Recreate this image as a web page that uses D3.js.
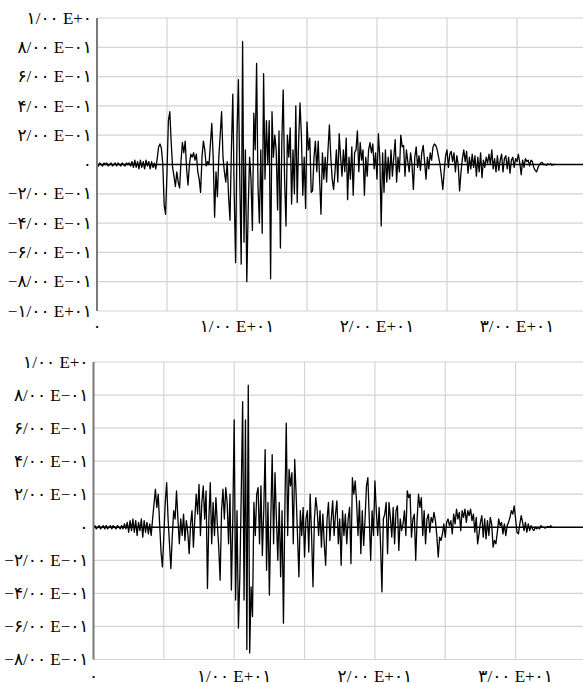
<!DOCTYPE html>
<html>
<head>
<meta charset="utf-8">
<script src="https://cdn.jsdelivr.net/npm/d3@7"></script>
<style>
  body { margin: 0; background: #fff; }
  svg { display: block; }
  .lbl { font-family: "Liberation Serif", "DejaVu Serif", "DejaVu Sans", serif; font-size: 17px; fill: #000; direction: ltr; }
</style>
</head>
<body>
<div class="canvas"></div>
<script>
// sample spacing (s) of both records
const dt = 0.1;

// top record, one row per second
const topSeries = [
  0.00, -0.01, 0.01, 0.00, -0.01, 0.01, 0.00, 0.01, -0.01, 0.00,
  0.01, -0.01, 0.00, 0.01, -0.01, 0.01, 0.00, -0.01, 0.01, 0.00,
  -0.01, 0.01, 0.00, 0.01, -0.01, 0.02, -0.02, 0.03, -0.02, 0.02,
  -0.03, 0.03, -0.02, 0.02, -0.03, 0.03, -0.01, 0.02, -0.03, 0.02,
  -0.02, 0.01, -0.03, 0.04, 0.12, 0.14, 0.11, 0.00, -0.28, -0.34,
  -0.05, 0.30, 0.36, 0.15, -0.02, -0.08, -0.15, -0.05, -0.12, -0.16,
  0.02, 0.15, 0.08, 0.16, -0.03, -0.14, 0.00, 0.07, 0.05, 0.08,
  0.03, 0.07, -0.05, -0.10, -0.19, 0.05, 0.16, 0.10, -0.01, 0.02,
  0.00, 0.14, 0.28, 0.05, -0.36, -0.05, -0.22, 0.05, 0.20, 0.36,
  0.05, -0.05, -0.12, 0.02, -0.22, -0.38, 0.10, 0.48, -0.20, -0.67,
  0.20, 0.58, -0.10, -0.68, 0.84, -0.53, 0.10, -0.80, -0.30, 0.05,
  -0.10, -0.45, 0.35, 0.10, 0.69, -0.15, -0.40, 0.10, -0.47, 0.62,
  -0.10, 0.30, 0.00, 0.30, -0.78, 0.36, 0.05, 0.20, 0.10, -0.31,
  0.23, -0.57, 0.15, 0.51, -0.10, -0.42, 0.20, 0.05, 0.25, -0.27,
  0.10, -0.20, 0.40, -0.26, 0.15, 0.42, 0.20, -0.21, 0.05, -0.30,
  0.29, 0.10, 0.18, -0.19, -0.18, 0.05, 0.16, -0.05, 0.16, -0.10,
  -0.34, 0.08, -0.10, 0.05, -0.12, 0.10, 0.27, 0.05, -0.10, -0.17,
  -0.05, 0.10, -0.12, 0.21, 0.05, -0.08, 0.10, -0.05, 0.18, -0.24,
  0.05, -0.10, 0.12, -0.21, 0.08, 0.10, 0.23, -0.05, 0.15, 0.03,
  0.10, -0.21, 0.05, -0.08, 0.10, 0.15, 0.08, 0.14, -0.03, 0.08,
  -0.10, 0.21, 0.05, -0.42, 0.08, -0.19, 0.10, -0.12, 0.05, -0.10,
  0.10, -0.08, 0.05, 0.17, -0.12, 0.05, -0.05, 0.20, 0.12, 0.13,
  -0.08, 0.10, 0.02, -0.05, 0.08, 0.00, -0.17, 0.05, 0.12, -0.02,
  0.06, -0.04, 0.08, 0.13, 0.02, -0.10, 0.05, -0.03, 0.08, 0.03,
  0.12, 0.14, 0.13, 0.10, 0.05, 0.00, -0.08, -0.17, -0.05, 0.06,
  0.10, -0.02, 0.07, 0.09, 0.02, 0.08, -0.05, 0.06, 0.00, -0.18,
  -0.05, 0.04, 0.10, 0.02, 0.09, -0.06, 0.05, -0.03, 0.07, -0.02,
  0.06, -0.08, 0.05, -0.05, 0.08, -0.09, 0.03, -0.02, 0.05, 0.01,
  0.07, 0.00, 0.10, -0.03, 0.04, -0.05, 0.06, -0.04, 0.03, 0.07,
  -0.05, 0.04, 0.06, -0.03, 0.05, -0.06, 0.03, 0.05, -0.02, 0.04,
  0.02, 0.07, 0.01, -0.07, 0.03, -0.02, 0.04, 0.02, 0.03, -0.01,
  0.03, 0.02, -0.02, -0.04, -0.05, -0.02, 0.00, 0.01, 0.015, 0.00,
  0.00, -0.005, 0.005, 0.00, 0.005, -0.005, 0.00, 0.00
];

// bottom record
const bottomSeries = [
  0.00, 0.01, -0.01, 0.00, 0.01, -0.01, 0.00, 0.01, -0.01, 0.01,
  -0.01, 0.00, 0.01, -0.01, 0.01, 0.00, -0.01, 0.01, 0.00, -0.01,
  0.01, -0.01, 0.02, -0.01, 0.03, -0.03, 0.04, -0.02, 0.05, -0.03,
  0.04, -0.05, 0.03, -0.02, 0.05, -0.06, 0.04, -0.03, 0.03, -0.04,
  0.02, -0.05, 0.05, 0.14, 0.23, 0.12, 0.20, 0.02, -0.15, -0.24,
  -0.05, 0.15, 0.27, 0.05, -0.10, -0.25, -0.05, 0.10, 0.05, 0.22,
  0.05, -0.10, 0.05, -0.05, 0.08, -0.08, 0.04, -0.03, -0.16, 0.02,
  0.10, -0.12, 0.05, 0.20, 0.08, 0.26, -0.05, 0.15, 0.25, 0.05,
  0.22, -0.37, 0.05, 0.27, -0.10, 0.15, -0.05, 0.18, 0.02, -0.12,
  -0.32, 0.10, 0.23, 0.05, 0.24, 0.15, -0.10, 0.20, -0.38, 0.05,
  0.65, -0.44, 0.10, -0.61, -0.30, 0.20, 0.76, -0.44, 0.65, -0.74,
  0.86, -0.76, -0.36, -0.54, 0.15, -0.05, 0.20, 0.24, -0.10, 0.25,
  -0.17, 0.10, 0.47, -0.26, 0.15, -0.41, 0.05, 0.44, -0.10, 0.33,
  0.05, -0.20, 0.15, -0.30, 0.10, -0.58, 0.10, 0.63, -0.05, 0.35,
  0.25, 0.33, -0.10, 0.41, 0.20, -0.05, -0.30, 0.10, -0.05, 0.12,
  -0.18, 0.05, 0.10, -0.15, 0.20, -0.05, -0.36, 0.05, 0.18, 0.10,
  -0.05, 0.10, -0.12, 0.08, -0.10, -0.23, 0.05, 0.15, -0.08, 0.05,
  0.16, -0.05, 0.08, 0.16, -0.10, 0.05, -0.23, 0.10, -0.05, 0.08,
  -0.10, 0.05, 0.12, -0.22, 0.30, 0.20, 0.28, 0.15, -0.05, 0.16,
  -0.16, 0.10, -0.11, 0.05, 0.25, 0.30, 0.05, -0.20, 0.10, -0.05,
  0.28, 0.10, -0.05, 0.12, -0.10, -0.39, 0.05, 0.08, 0.15, -0.16,
  0.15, 0.06, -0.06, 0.12, -0.10, 0.10, 0.13, -0.14, 0.05, -0.02,
  0.02, 0.10, -0.05, 0.22, 0.18, 0.20, -0.06, 0.05, 0.08, -0.20,
  0.05, 0.20, 0.12, 0.18, -0.05, 0.10, -0.10, 0.05, 0.08, -0.03,
  0.06, 0.03, 0.09, 0.04, -0.05, -0.18, -0.06, -0.08, -0.04, 0.02,
  -0.06, 0.03, 0.05, 0.01, 0.04, -0.04, 0.08, 0.02, 0.11, 0.05,
  0.09, -0.02, 0.10, 0.06, 0.11, 0.03, 0.10, 0.07, 0.11, 0.04,
  0.08, -0.03, 0.06, -0.10, -0.04, 0.03, 0.07, -0.06, 0.05, -0.07,
  0.04, -0.05, 0.06, 0.02, -0.12, -0.08, -0.10, -0.03, 0.05, 0.01,
  0.03, -0.04, 0.02, -0.05, 0.01, 0.03, 0.06, 0.10, 0.08, 0.13,
  0.05, -0.03, -0.04, 0.02, 0.07, 0.03, -0.02, 0.03, -0.03, 0.02,
  -0.02, 0.01, -0.01, -0.02, 0.00, -0.01, 0.00, -0.01, 0.01, 0.00,
  0.00, -0.005, 0.00, 0.005, 0.00, 0.01, 0.00
];

// axis ticks and their labels
const xGrid = [0, 5, 10, 15, 20, 25, 30, 35];
const xTicks = [0, 10, 20, 30];
const xLabels = ["۰", "۱/۰۰ E+۰۱", "۲/۰۰ E+۰۱", "۳/۰۰ E+۰۱"];

const yTicksTop = [1, 0.8, 0.6, 0.4, 0.2, 0, -0.2, -0.4, -0.6, -0.8, -1];
const yLabelsTop = ["۱/۰۰ E+۰", "۸/۰۰ E−۰۱", "۶/۰۰ E−۰۱", "۴/۰۰ E−۰۱", "۲/۰۰ E−۰۱", "۰",
  "−۲/۰۰ E−۰۱", "−۴/۰۰ E−۰۱", "−۶/۰۰ E−۰۱", "−۸/۰۰ E−۰۱", "−۱/۰۰ E+۰۱"];

const yTicksBottom = [1, 0.8, 0.6, 0.4, 0.2, 0, -0.2, -0.4, -0.6, -0.8];
const yLabelsBottom = ["۱/۰۰ E+۰", "۸/۰۰ E−۰۱", "۶/۰۰ E−۰۱", "۴/۰۰ E−۰۱", "۲/۰۰ E−۰۱", "۰",
  "−۲/۰۰ E−۰۱", "−۴/۰۰ E−۰۱", "−۶/۰۰ E−۰۱", "−۸/۰۰ E−۰۱"];

const W = 583, H = 684;

const svg = d3.select(".canvas").append("svg")
  .attr("width", W)
  .attr("height", H);

function drawPanel(p) {
  const x = d3.scaleLinear().domain([0, 35]).range([p.left, p.left + 35 * p.pxPerSec]);
  const y = d3.scaleLinear().domain(p.yDomain).range([p.bottom, p.top]);
  const g = svg.append("g");

  // horizontal grid
  g.selectAll(".hg").data(p.yTicks).enter().append("line")
    .attr("x1", p.left).attr("x2", W)
    .attr("y1", d => y(d)).attr("y2", d => y(d))
    .attr("stroke", "#d4d4d4").attr("stroke-width", 1.2);

  // vertical grid
  g.selectAll(".vg").data(xGrid.filter(d => d > 0)).enter().append("line")
    .attr("x1", d => x(d)).attr("x2", d => x(d))
    .attr("y1", p.top).attr("y2", p.bottom)
    .attr("stroke", "#d4d4d4").attr("stroke-width", 1.2);

  // signal
  const line = d3.line()
    .x((d, i) => x(i * dt))
    .y(d => y(d));

  g.append("path")
    .datum(p.series)
    .attr("fill", "none")
    .attr("stroke", "#000")
    .attr("stroke-width", 1.3)
    .attr("stroke-linejoin", "round")
    .attr("d", line);

  // zero line
  g.append("line")
    .attr("x1", p.left).attr("x2", W)
    .attr("y1", y(0)).attr("y2", y(0))
    .attr("stroke", "#000").attr("stroke-width", 1.5);

  // left axis
  g.append("line")
    .attr("x1", p.left).attr("x2", p.left)
    .attr("y1", p.top).attr("y2", p.bottom)
    .attr("stroke", "#7a7a7a").attr("stroke-width", 2);

  // y labels
  g.selectAll(".yl").data(p.yTicks).enter().append("text")
    .attr("class", "lbl")
    .attr("x", p.left - 5)
    .attr("y", d => y(d))
    .attr("dy", "0.33em")
    .attr("text-anchor", "end")
    .text((d, i) => p.yLabels[i]);

  // x labels
  g.selectAll(".xl").data(xTicks).enter().append("text")
    .attr("class", "lbl")
    .attr("x", d => x(d))
    .attr("y", p.bottom + p.xLabelGap)
    .attr("text-anchor", "middle")
    .text((d, i) => xLabels[i]);
}

drawPanel({
  series: topSeries, yTicks: yTicksTop, yLabels: yLabelsTop,
  yDomain: [-1, 1], left: 97, top: 18, bottom: 311, pxPerSec: 14, xLabelGap: 21
});

drawPanel({
  series: bottomSeries, yTicks: yTicksBottom, yLabels: yLabelsBottom,
  yDomain: [-0.8, 1], left: 93.5, top: 362, bottom: 659.5, pxPerSec: 14.07, xLabelGap: 22
});
</script>
</body>
</html>
